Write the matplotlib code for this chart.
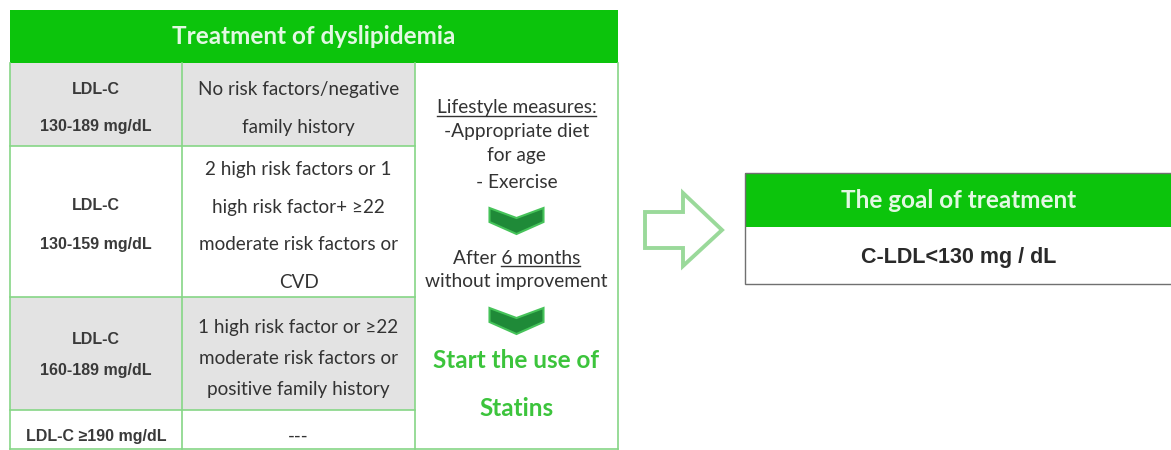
import matplotlib
matplotlib.use('Agg')
import matplotlib.pyplot as plt
from matplotlib.patches import Rectangle, Polygon

# table contents
title = 'Treatment of dyslipidemia'
ldl_levels = [['LDL-C', '130-189 mg/dL'],
              ['LDL-C', '130-159 mg/dL'],
              ['LDL-C', '160-189 mg/dL'],
              ['LDL-C \u2265190 mg/dL']]
risk_groups = [['No risk factors/negative', 'family history'],
               ['2 high risk factors or 1', 'high risk factor+ \u226522',
                'moderate risk factors or', 'CVD'],
               ['1 high risk factor or \u226522', 'moderate risk factors or',
                'positive family history'],
               ['---']]
lifestyle = ['Lifestyle measures:', '-Appropriate diet', 'for age', '- Exercise']
after_lines = ['After 6 months', 'without improvement']
statins = ['Start the use of', 'Statins']
goal_title = 'The goal of treatment'
goal_value = 'C-LDL<130 mg / dL'

# layout (pixels)
W, H = 1171, 450
x_cols = [10, 182, 415, 618]
y_rows = [63, 146, 297, 410, 449]
title_top = 10
shaded = [True, False, True, False]
ldl_y = [[90, 127], [205, 245], [340, 370], [436]]
risk_y = [[90, 127], [170, 207, 245, 283], [327, 358, 389], [436]]

GREEN = '#0cc40c'
LINE = '#86d686'
GRAY = '#e3e3e3'
TXT = '#333333'
calibri = ['Lato', 'DejaVu Sans']
arial = ['Liberation Sans', 'DejaVu Sans']

fig = plt.figure(figsize=(W / 100, H / 100), dpi=100)
ax = fig.add_axes([0, 0, 1, 1])
ax.set_xlim(0, W)
ax.set_ylim(H, 0)
ax.axis('off')

# title bar
ax.add_patch(Rectangle((x_cols[0], title_top), x_cols[-1] - x_cols[0],
                       y_rows[0] - title_top, color=GREEN, lw=0))
ax.text((x_cols[0] + x_cols[-1]) / 2, 37, title, ha='center', va='center',
        color='#e2f8e2', fontsize=17.5, fontweight='bold', family=calibri)

# row shading and cell text
for i in range(4):
    y0, y1 = y_rows[i], y_rows[i + 1]
    if shaded[i]:
        ax.add_patch(Rectangle((x_cols[0], y0), x_cols[2] - x_cols[0], y1 - y0,
                               color=GRAY, lw=0))
    for txt, yy in zip(ldl_levels[i], ldl_y[i]):
        ax.text((x_cols[0] + x_cols[1]) / 2, yy, txt, ha='center', va='center',
                color='#3a3a3a', fontsize=11.5, fontweight='bold', family=arial)
    for txt, yy in zip(risk_groups[i], risk_y[i]):
        ax.text((x_cols[1] + x_cols[2]) / 2, yy, txt, ha='center', va='center',
                color=TXT, fontsize=13.6, family=calibri)

# grid lines
for i in range(1, 4):
    ax.plot([x_cols[0], x_cols[2]], [y_rows[i], y_rows[i]], color=LINE, lw=1.2)
for x in x_cols:
    ax.plot([x, x], [y_rows[0], y_rows[-1]], color=LINE, lw=1.2)
ax.plot([x_cols[0], x_cols[-1]], [y_rows[-1], y_rows[-1]], color=LINE, lw=1.2)

# third column
cx = (x_cols[2] + x_cols[3]) / 2
life_y = [108, 132, 156, 183]
life_txt = []
for txt, yy in zip(lifestyle, life_y):
    life_txt.append(ax.text(cx, yy, txt, ha='center', va='center', color=TXT,
                            fontsize=13.8, family=calibri))
after_y = [258, 282]
after_txt = []
for txt, yy in zip(after_lines, after_y):
    after_txt.append(ax.text(cx, yy, txt, ha='center', va='center', color=TXT,
                             fontsize=13.8, family=calibri))
for txt, yy in zip(statins, [360, 408]):
    ax.text(cx, yy, txt, ha='center', va='center', color='#3cc43c',
            fontsize=17.5, fontweight='bold', family=calibri)


def chevron(yc):
    pts = [(cx - 27, yc - 13), (cx, yc - 3), (cx + 27, yc - 13),
           (cx + 27, yc + 1), (cx, yc + 13), (cx - 27, yc + 1)]
    ax.add_patch(Polygon(pts, closed=True, facecolor='#1f8a38',
                         edgecolor='#46c35a', lw=1.5))


chevron(221)
chevron(321)

# underlines
fig.canvas.draw()
r = fig.canvas.get_renderer()
inv = ax.transData.inverted()


def underline(t, part=None):
    bb = t.get_window_extent(r)
    x0, x1 = bb.x0, bb.x1
    if part is not None:
        tmp = ax.text(0, 0, part, fontsize=t.get_fontsize(), family=calibri)
        w = tmp.get_window_extent(r).width
        tmp.remove()
        x0 = x1 - w
    (a, yb), (b, _) = inv.transform([(x0, bb.y0 + 1), (x1, bb.y0 + 1)])
    ax.plot([a, b], [yb, yb], color=TXT, lw=1)


underline(life_txt[0])
underline(after_txt[0], '6 months')

# hollow arrow
arrow = [(645, 212), (683, 212), (683, 193), (722, 230), (683, 266),
         (683, 248), (645, 248)]
ax.add_patch(Polygon(arrow, closed=True, facecolor='white',
                     edgecolor='#9ad99a', lw=2.8))

# goal box, running off the right edge
gx0, gx1 = 745, W + 1
ax.add_patch(Rectangle((gx0, 173), gx1 - gx0, 54, color=GREEN, lw=0))
ax.add_patch(Rectangle((gx0, 173), gx1 - gx0, 111, facecolor='none',
                       edgecolor='#707070', lw=1))
ax.text((gx0 + gx1) / 2, 200, goal_title, ha='center', va='center',
        color='#e2f8e2', fontsize=17.5, fontweight='bold', family=calibri)
ax.text((gx0 + gx1) / 2, 257, goal_value, ha='center', va='center',
        color='#2a2a2a', fontsize=15.5, fontweight='bold', family=arial)

fig.savefig('out.png', dpi=100)
